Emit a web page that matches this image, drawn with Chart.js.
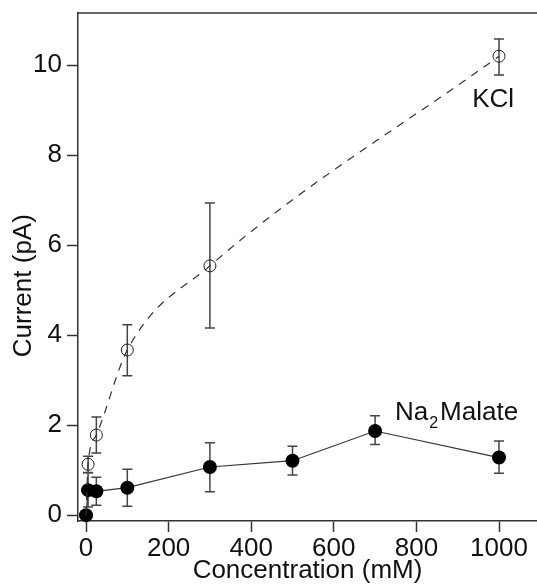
<!DOCTYPE html>
<html>
<head>
<meta charset="utf-8">
<script src="https://cdn.jsdelivr.net/npm/chart.js@4.4.0/dist/chart.umd.min.js"></script>
<style>
  html, body { margin: 0; padding: 0; background: #fff; overflow: hidden; }
  #wrap { position: relative; width: 537px; height: 586px; }
</style>
</head>
<body>
<div id="wrap"><canvas id="currentChart"></canvas></div>
<script>
// KCl: concentration (mM), mean current (pA), error bar top / bottom
const kclConc = [0, 5, 25, 100, 300, 1000];
const kclCurrent = [0, 1.13, 1.78, 3.67, 5.54, 10.2];
const kclErrHigh = [null, 1.31, 2.18, 4.23, 6.94, 10.58];
const kclErrLow = [null, 0.94, 1.38, 3.10, 4.16, 9.78];

// Na2Malate
const malateConc = [0, 5, 25, 100, 300, 500, 700, 1000];
const malateCurrent = [0, 0.556, 0.53, 0.61, 1.07, 1.21, 1.87, 1.28];
const malateErrHigh = [null, 0.95, 0.84, 1.02, 1.61, 1.53, 2.21, 1.65];
const malateErrLow = [null, 0.18, 0.22, 0.20, 0.52, 0.89, 1.57, 0.93];

const xTickStep = 200;
const yTickStep = 2;

const FONT = "'Liberation Sans', Arial, sans-serif";
const FONT_SIZE = 26;
const INK = "#333";

function toPoints(xs, ys) {
  return xs.map((x, i) => ({ x: x, y: ys[i] }));
}

// vertical error bars with caps, drawn under the markers
const errorBars = {
  id: "errorBars",
  beforeDatasetsDraw(chart) {
    const ctx = chart.ctx;
    const xs = chart.scales.x;
    const ys = chart.scales.y;
    ctx.save();
    ctx.strokeStyle = "#444";
    ctx.lineWidth = 1.5;
    chart.data.datasets.forEach((ds) => {
      ds.data.forEach((p, i) => {
        if (ds.errHigh[i] == null) return;
        const px = xs.getPixelForValue(p.x);
        const top = ys.getPixelForValue(ds.errHigh[i]);
        const bot = ys.getPixelForValue(ds.errLow[i]);
        ctx.beginPath();
        ctx.moveTo(px, top);
        ctx.lineTo(px, bot);
        ctx.moveTo(px - 5, top);
        ctx.lineTo(px + 5, top);
        ctx.moveTo(px - 5, bot);
        ctx.lineTo(px + 5, bot);
        ctx.stroke();
      });
    });
    ctx.restore();
  },
};

// top frame line, y title and series labels
const decorations = {
  id: "decorations",
  afterDraw(chart) {
    const ctx = chart.ctx;
    const area = chart.chartArea;
    const xs = chart.scales.x;
    const ys = chart.scales.y;
    ctx.save();
    ctx.strokeStyle = INK;
    ctx.lineWidth = 1.5;
    ctx.beginPath();
    ctx.moveTo(area.left, area.top);
    ctx.lineTo(chart.width, area.top);
    ctx.stroke();

    ctx.fillStyle = "#111";
    ctx.font = FONT_SIZE + "px " + FONT;
    ctx.textBaseline = "alphabetic";
    ctx.textAlign = "left";
    ctx.fillText("KCl", xs.getPixelForValue(935), ys.getPixelForValue(9.07));

    // Na₂Malate with a lowered, smaller "2"
    let lx = xs.getPixelForValue(748);
    const ly = ys.getPixelForValue(2.11);
    ctx.fillText("Na", lx, ly);
    lx += ctx.measureText("Na").width + 1;
    ctx.font = "16px " + FONT;
    ctx.fillText("2", lx, ly + 8);
    lx += ctx.measureText("2").width + 2;
    ctx.font = FONT_SIZE + "px " + FONT;
    ctx.fillText("Malate", lx, ly);

    ctx.translate(24, ys.getPixelForValue(5.1));
    ctx.rotate(-Math.PI / 2);
    ctx.textAlign = "center";
    ctx.textBaseline = "middle";
    ctx.fillText("Current (pA)", 0, 0);
    ctx.restore();
  },
};

new Chart(document.getElementById("currentChart").getContext("2d"), {
  type: "scatter",
  data: {
    datasets: [
      {
        label: "KCl",
        data: toPoints(kclConc, kclCurrent),
        errHigh: kclErrHigh,
        errLow: kclErrLow,
        showLine: true,
        cubicInterpolationMode: "monotone",
        borderColor: INK,
        borderWidth: 1.2,
        borderDash: [8, 7],
        pointRadius: kclConc.map((c) => (c === 0 ? 0 : 6)),
        pointBorderColor: "#222",
        pointBorderWidth: 1,
        pointBackgroundColor: "rgba(0,0,0,0)",
        clip: false,
      },
      {
        label: "Na2Malate",
        data: toPoints(malateConc, malateCurrent),
        errHigh: malateErrHigh,
        errLow: malateErrLow,
        showLine: true,
        borderColor: INK,
        borderWidth: 1.2,
        pointRadius: 7,
        pointBorderWidth: 0,
        pointBackgroundColor: "#000",
        clip: false,
      },
    ],
  },
  options: {
    responsive: true,
    maintainAspectRatio: false,
    animation: false,
    layout: { autoPadding: false, padding: { top: 13, right: 0, bottom: 0, left: 0 } },
    plugins: { legend: { display: false }, tooltip: { enabled: false } },
    scales: {
      x: {
        type: "linear",
        min: -19.4,
        max: 1092,
        afterFit: (s) => { s.height = 65; s.paddingLeft = 0; s.paddingRight = 0; },
        border: { color: INK, width: 1.5 },
        grid: { drawOnChartArea: false, tickLength: 11, tickColor: INK, tickWidth: 1.5 },
        ticks: {
          stepSize: xTickStep,
          includeBounds: false,
          padding: 1,
          color: "#111",
          font: { family: FONT, size: FONT_SIZE },
          callback: (v) => String(v),
        },
        title: {
          display: true,
          text: "Concentration (mM)",
          color: "#111",
          font: { family: FONT, size: FONT_SIZE },
          padding: { top: 0, bottom: 0 },
        },
      },
      y: {
        type: "linear",
        min: -0.13,
        max: 11.16,
        afterFit: (s) => { s.width = 78; s.paddingTop = 0; s.paddingBottom = 0; },
        border: { color: INK, width: 1.5 },
        grid: { drawOnChartArea: false, tickLength: 11, tickColor: INK, tickWidth: 1.5 },
        ticks: {
          stepSize: yTickStep,
          includeBounds: false,
          padding: 5,
          color: "#111",
          font: { family: FONT, size: FONT_SIZE },
        },
      },
    },
  },
  plugins: [errorBars, decorations],
});
</script>
</body>
</html>
